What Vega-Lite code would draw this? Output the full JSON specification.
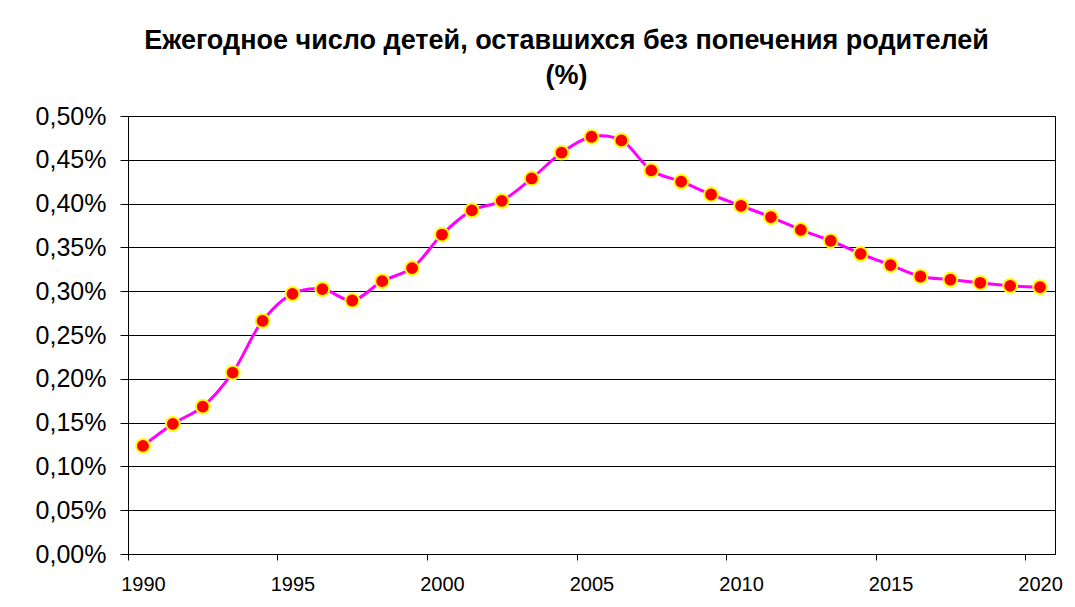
{
  "$schema": "https://vega.github.io/schema/vega-lite/v6.json",
  "autosize": "none",
  "width": 927,
  "height": 438,
  "padding": {"left": 128, "top": 116, "right": 20, "bottom": 53},
  "background": "white",
  "title": {
    "text": ["Ежегодное число детей, оставшихся без попечения родителей", "(%)"],
    "font": "Liberation Sans",
    "fontSize": 27,
    "fontWeight": "bold",
    "color": "black",
    "anchor": "middle",
    "lineHeight": 35,
    "offset": 14,
    "dx": -25
  },
  "data": {
    "values": [
      {"year": 1990, "value": 0.1234},
      {"year": 1991, "value": 0.1485},
      {"year": 1992, "value": 0.1683},
      {"year": 1993, "value": 0.2071},
      {"year": 1994, "value": 0.2662},
      {"year": 1995, "value": 0.2970},
      {"year": 1996, "value": 0.3024},
      {"year": 1997, "value": 0.2894},
      {"year": 1998, "value": 0.3115},
      {"year": 1999, "value": 0.3264},
      {"year": 2000, "value": 0.3647},
      {"year": 2001, "value": 0.3922},
      {"year": 2002, "value": 0.4032},
      {"year": 2003, "value": 0.4287},
      {"year": 2004, "value": 0.4581},
      {"year": 2005, "value": 0.4763},
      {"year": 2006, "value": 0.4721},
      {"year": 2007, "value": 0.4379},
      {"year": 2008, "value": 0.4250},
      {"year": 2009, "value": 0.4104},
      {"year": 2010, "value": 0.3975},
      {"year": 2011, "value": 0.3846},
      {"year": 2012, "value": 0.3701},
      {"year": 2013, "value": 0.3576},
      {"year": 2014, "value": 0.3427},
      {"year": 2015, "value": 0.3298},
      {"year": 2016, "value": 0.3168},
      {"year": 2017, "value": 0.3133},
      {"year": 2018, "value": 0.3096},
      {"year": 2019, "value": 0.3061},
      {"year": 2020, "value": 0.3047}
    ]
  },
  "encoding": {
    "x": {
      "field": "year",
      "type": "quantitative",
      "scale": {"domain": [1989.5, 2020.5], "nice": false, "zero": false},
      "axis": {
        "values": [1990, 1995, 2000, 2005, 2010, 2015, 2020],
        "format": "d",
        "tickOffset": -15,
        "labelOffset": 15,
        "grid": false,
        "title": null,
        "labelFont": "Liberation Sans",
        "labelFontSize": 20,
        "labelColor": "black",
        "tickColor": "black",
        "tickSize": 6,
        "domainColor": "black",
        "labelPadding": 14,
        "labelFlush": false,
        "labelOverlap": false,
        "labelBound": false
      }
    },
    "y": {
      "field": "value",
      "type": "quantitative",
      "scale": {"domain": [0, 0.5], "nice": false},
      "axis": {
        "values": [0, 0.05, 0.1, 0.15, 0.2, 0.25, 0.3, 0.35, 0.4, 0.45, 0.5],
        "labelExpr": "replace(format(datum.value, '.2f'), '.', ',') + '%'",
        "title": null,
        "grid": true,
        "gridColor": "black",
        "gridOpacity": 1,
        "tickSize": 8,
        "tickColor": "black",
        "domainColor": "black",
        "labelFont": "Liberation Sans",
        "labelFontSize": 25,
        "labelColor": "black",
        "labelPadding": 14,
        "labelFlush": false,
        "labelOverlap": false,
        "labelBound": false
      }
    }
  },
  "layer": [
    {
      "mark": {"type": "line", "color": "#FF00FF", "strokeWidth": 3, "interpolate": "catmull-rom"}
    },
    {
      "mark": {"type": "point", "shape": "circle", "filled": true, "fill": "#FF0000", "stroke": "#FFFF00", "strokeWidth": 2, "size": 190, "opacity": 1}
    }
  ],
  "config": {
    "view": {"stroke": "black", "strokeWidth": 1},
    "axis": {"domainWidth": 1, "tickWidth": 1, "gridWidth": 1}
  }
}
